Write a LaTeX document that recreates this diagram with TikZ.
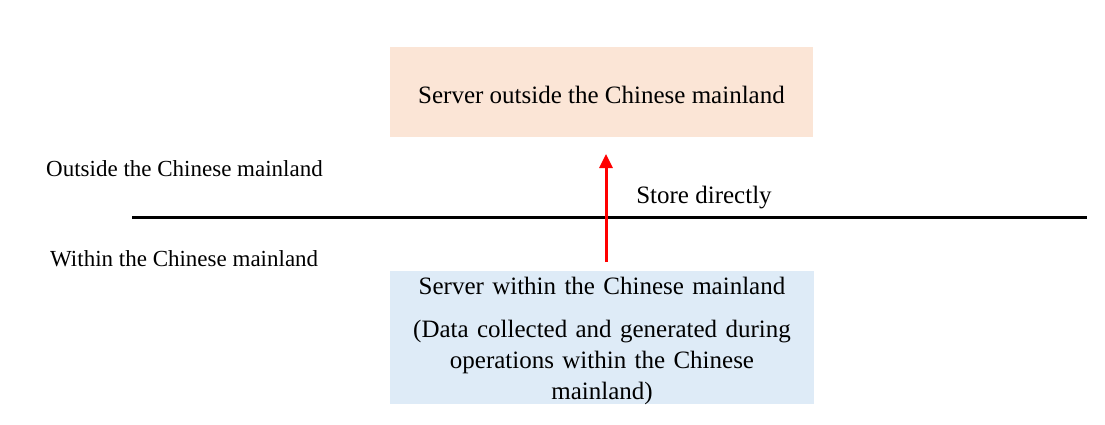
\documentclass[tikz,border=0pt]{standalone}
\usepackage{fontspec}
\setmainfont{Liberation Serif}
\usetikzlibrary{arrows.meta}
\definecolor{peach}{HTML}{FBE5D6}
\definecolor{paleblue}{HTML}{DEEBF7}
\tikzset{
  serverbox/.style={rectangle, inner sep=0pt, draw=none},
  servertext/.style={inner sep=0pt, align=center, text=black,
    font=\fontsize{25}{31}\selectfont},
  zonelabel/.style={anchor=west, inner sep=0pt, font=\fontsize{23}{28}\selectfont},
  border/.style={line width=3pt, black},
  flow/.style={line width=3pt, red, -{Triangle[width=13pt,length=14pt]}}
}
\begin{document}
\begin{tikzpicture}[x=1pt,y=-1pt]
  \useasboundingbox (0,0) rectangle (1105,425);
  % servers on each side of the border
  \node[serverbox, fill=peach, minimum width=423pt, minimum height=90pt]
    (outer) at (601.5,92) {};
  \node[servertext] (outertext) at ([yshift=-2.5pt]outer.center)
    {Server outside the Chinese mainland};
  \node[serverbox, fill=paleblue, minimum width=424pt, minimum height=133pt]
    (inner) at (602,337.5) {};
  \node[servertext, text width=400pt] (innertext) at ([yshift=-3.5pt]inner.center)
    {Server within the Chinese mainland\\[12pt]
      (Data collected and generated during\\operations within the Chinese\\mainland)};
  % border line
  \coordinate (bl) at (132,217);
  \coordinate (br) at (1087,217);
  \draw[border] (bl) -- (br);
  % zone labels
  \node[zonelabel] (outlbl) at (46,168.5) {Outside the Chinese mainland};
  \node[zonelabel] (inlbl) at (50,259) {Within the Chinese mainland};
  % storage flow
  \coordinate (fromin) at (606,262);
  \coordinate (toout) at (606,154);
  \draw[flow] (fromin) -- (toout);
  \node[font=\fontsize{25}{30}\selectfont, inner sep=0pt] (store) at (704,197.5) {Store directly};
\end{tikzpicture}
\end{document}
